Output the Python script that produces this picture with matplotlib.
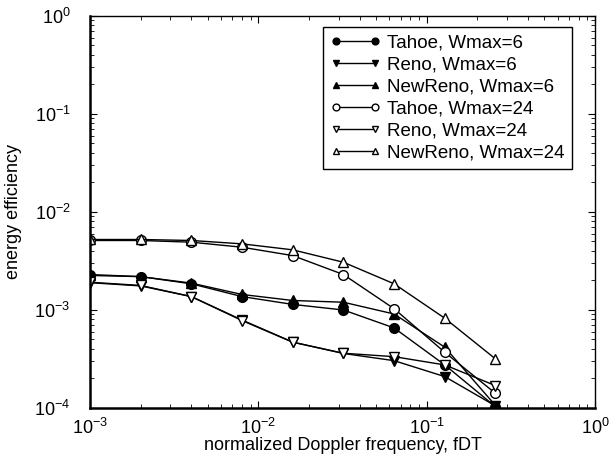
import matplotlib
matplotlib.use("Agg")
import matplotlib.pyplot as plt

plt.rcParams["font.family"] = "Liberation Sans"
plt.rcParams["mathtext.fontset"] = "custom"
plt.rcParams["mathtext.rm"] = "Liberation Sans"
plt.rcParams["mathtext.it"] = "Liberation Sans:italic"

# normalized Doppler frequency
fdt = [0.001, 0.002, 0.004, 0.008, 0.016, 0.032, 0.064, 0.128, 0.256]

tahoe_w6 = [2.25e-3, 2.19e-3, 1.85e-3, 1.37e-3, 1.14e-3, 1.0e-3, 6.56e-4, 2.75e-4, 1.03e-4]
reno_w6 = [1.90e-3, 1.76e-3, 1.37e-3, 7.9e-4, 4.7e-4, 3.6e-4, 3.04e-4, 2.09e-4, 1.05e-4]
newreno_w6 = [2.30e-3, 2.19e-3, 1.88e-3, 1.44e-3, 1.25e-3, 1.20e-3, 9.1e-4, 4.17e-4, 1.06e-4]
tahoe_w24 = [5.12e-3, 5.12e-3, 4.92e-3, 4.37e-3, 3.59e-3, 2.30e-3, 1.03e-3, 3.70e-4, 1.41e-4]
reno_w24 = [1.92e-3, 1.78e-3, 1.37e-3, 7.8e-4, 4.69e-4, 3.62e-4, 3.34e-4, 2.75e-4, 1.69e-4]
newreno_w24 = [5.24e-3, 5.24e-3, 5.12e-3, 4.73e-3, 4.11e-3, 3.07e-3, 1.85e-3, 8.24e-4, 3.17e-4]

labels = ["Tahoe, Wmax=6", "Reno, Wmax=6", "NewReno, Wmax=6",
          "Tahoe, Wmax=24", "Reno, Wmax=24", "NewReno, Wmax=24"]

fig = plt.figure(figsize=(6.13, 4.61), dpi=100)
ax = fig.add_axes([0.1468, 0.115, 0.824, 0.8503])

ms = 7
ax.plot(fdt, reno_w6, "-v", color="k", lw=1, ms=ms, mfc="k", label=labels[1])
ax.plot(fdt, tahoe_w6, "-o", color="k", lw=1, ms=ms, mfc="k", label=labels[0])
ax.plot(fdt, newreno_w6, "-^", color="k", lw=1, ms=ms, mfc="k", label=labels[2])
ax.plot(fdt, tahoe_w24, "-o", color="k", lw=1, ms=ms, mfc="w", label=labels[3])
ax.plot(fdt, reno_w24, "-v", color="k", lw=1, ms=ms, mfc="w", label=labels[4])
ax.plot(fdt, newreno_w24, "-^", color="k", lw=1, ms=ms, mfc="w", label=labels[5])

ax.set_xscale("log")
ax.set_yscale("log")
ax.set_xlim(1e-3, 1e0)
ax.set_ylim(1e-4, 1e0)

ax.tick_params(which="both", direction="in", top=True, right=True)
ax.tick_params(which="major", length=5, labelsize=13)
ax.tick_params(axis="x", which="major", pad=7)
ax.tick_params(axis="y", which="major", pad=14)
ax.tick_params(which="minor", length=3)
for side in ["left", "bottom"]:
    ax.spines[side].set_linewidth(1.8)
for side in ["top", "right"]:
    ax.spines[side].set_linewidth(1.0)

ax.set_xlabel("normalized Doppler frequency, fDT", fontsize=13)
ax.set_ylabel("energy efficiency", fontsize=13)
ax.xaxis.set_label_coords(0.5, -0.075)
ax.yaxis.set_label_coords(-0.135, 0.5)

# legend entries in the original order
handles, labs = ax.get_legend_handles_labels()
order = [labs.index(l) for l in labels]
leg = ax.legend([handles[i] for i in order], labels, loc="upper right",
                bbox_to_anchor=(0.955, 0.972), fontsize=13.5, markerscale=0.7,
                numpoints=2, handlelength=2.7, handletextpad=0.35,
                labelspacing=0.26, borderpad=0.4, borderaxespad=0.0,
                fancybox=False, framealpha=1, edgecolor="k")
leg.get_frame().set_linewidth(1.0)

fig.savefig("out.png", dpi=100)
